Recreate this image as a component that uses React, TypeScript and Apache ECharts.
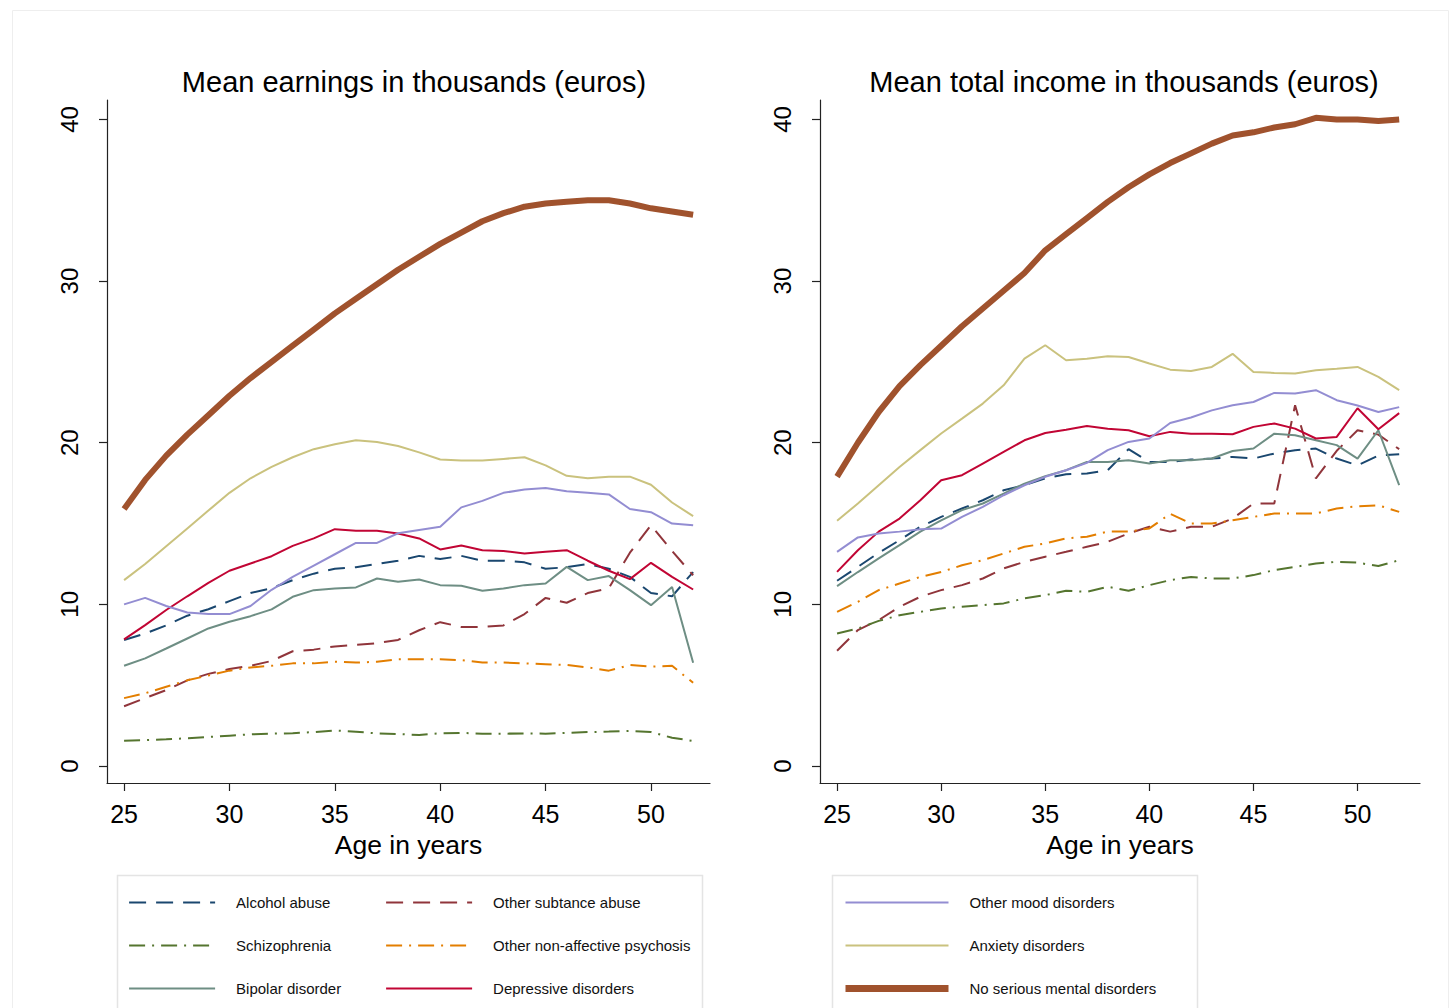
import { useRef, useEffect } from "react";
import * as echarts from "echarts";

// ages on the x axis
const ages = [25, 26, 27, 28, 29, 30, 31, 32, 33, 34, 35, 36, 37, 38, 39, 40, 41, 42, 43, 44, 45, 46, 47, 48, 49, 50, 51, 52];
const xTicks = [25, 30, 35, 40, 45, 50];
const yTicks = [0, 10, 20, 30, 40];

// mean earnings (left panel)
const alcoholE = [7.8, 8.2, 8.7, 9.3, 9.7, 10.2, 10.7, 11.0, 11.5, 11.9, 12.2, 12.3, 12.5, 12.7, 13.0, 12.8, 13.0, 12.7, 12.7, 12.6, 12.2, 12.3, 12.5, 12.2, 11.7, 10.7, 10.5, 12.0];
const substanceE = [3.7, 4.2, 4.7, 5.3, 5.7, 6.0, 6.2, 6.5, 7.1, 7.2, 7.4, 7.5, 7.6, 7.8, 8.4, 8.9, 8.6, 8.6, 8.7, 9.4, 10.4, 10.1, 10.7, 11.0, 13.2, 14.9, 13.3, 11.8];
const schizoE = [1.57, 1.6, 1.65, 1.72, 1.8, 1.88, 1.96, 2.0, 2.03, 2.1, 2.2, 2.12, 2.02, 1.98, 1.92, 2.03, 2.05, 2.0, 2.0, 2.02, 2.0, 2.05, 2.1, 2.13, 2.17, 2.1, 1.75, 1.55];
const psychosisE = [4.2, 4.5, 4.9, 5.3, 5.6, 5.9, 6.1, 6.2, 6.35, 6.35, 6.45, 6.4, 6.45, 6.6, 6.6, 6.6, 6.55, 6.4, 6.4, 6.35, 6.3, 6.25, 6.1, 5.9, 6.25, 6.15, 6.2, 5.15];
const bipolarE = [6.2, 6.66, 7.27, 7.89, 8.51, 8.92, 9.27, 9.69, 10.47, 10.88, 10.98, 11.05, 11.6, 11.4, 11.54, 11.19, 11.15, 10.84, 10.98, 11.19, 11.29, 12.32, 11.5, 11.75, 10.88, 9.95, 11.08, 6.39];
const depressiveE = [7.83, 8.72, 9.65, 10.5, 11.33, 12.08, 12.53, 12.98, 13.62, 14.08, 14.65, 14.55, 14.55, 14.38, 14.08, 13.4, 13.64, 13.35, 13.3, 13.15, 13.25, 13.35, 12.7, 12.08, 11.56, 12.57, 11.7, 10.92];
const moodE = [10.0, 10.4, 9.9, 9.5, 9.4, 9.4, 9.9, 10.9, 11.7, 12.4, 13.1, 13.8, 13.8, 14.4, 14.6, 14.8, 16.0, 16.4, 16.9, 17.1, 17.2, 17.0, 16.9, 16.8, 15.9, 15.7, 15.0, 14.9];
const anxietyE = [11.5, 12.5, 13.6, 14.7, 15.8, 16.9, 17.8, 18.5, 19.1, 19.6, 19.9, 20.15, 20.05, 19.8, 19.4, 18.96, 18.9, 18.9, 19.0, 19.1, 18.6, 17.95, 17.8, 17.9, 17.9, 17.4, 16.3, 15.46];
const noneE = [15.9, 17.7, 19.2, 20.5, 21.7, 22.9, 24.0, 25.0, 26.0, 27.0, 28.0, 28.9, 29.8, 30.7, 31.5, 32.3, 33.0, 33.7, 34.2, 34.6, 34.8, 34.9, 35.0, 35.0, 34.8, 34.5, 34.3, 34.1];

// mean total income (right panel)
const alcoholI = [11.46, 12.32, 13.19, 13.97, 14.8, 15.41, 15.93, 16.44, 17.06, 17.37, 17.79, 18.05, 18.1, 18.3, 19.6, 18.81, 18.81, 18.96, 19.02, 19.12, 19.02, 19.33, 19.54, 19.64, 19.02, 18.6, 19.2, 19.29];
const substanceI = [7.13, 8.41, 9.03, 9.85, 10.47, 10.88, 11.19, 11.6, 12.22, 12.63, 12.95, 13.25, 13.56, 13.87, 14.39, 14.8, 14.5, 14.8, 14.8, 15.31, 16.24, 16.24, 22.32, 17.79, 19.5, 20.77, 20.5, 19.6];
const schizoI = [8.2, 8.5, 8.98, 9.33, 9.54, 9.75, 9.85, 9.95, 10.06, 10.37, 10.57, 10.84, 10.78, 11.09, 10.84, 11.19, 11.5, 11.7, 11.6, 11.6, 11.81, 12.12, 12.32, 12.53, 12.63, 12.58, 12.37, 12.73];
const psychosisI = [9.54, 10.16, 10.88, 11.29, 11.7, 12.0, 12.42, 12.73, 13.15, 13.56, 13.77, 14.08, 14.18, 14.5, 14.5, 14.7, 15.6, 15.0, 15.0, 15.2, 15.41, 15.62, 15.62, 15.62, 15.93, 16.07, 16.13, 15.72];
const bipolarI = [11.13, 12.0, 12.84, 13.66, 14.5, 15.2, 15.83, 16.24, 16.85, 17.47, 17.93, 18.3, 18.81, 18.81, 18.92, 18.71, 18.92, 18.92, 19.02, 19.49, 19.64, 20.56, 20.46, 20.15, 19.85, 19.02, 20.77, 17.37];
const depressiveI = [12.01, 13.35, 14.5, 15.31, 16.44, 17.68, 17.99, 18.71, 19.43, 20.15, 20.6, 20.8, 21.04, 20.87, 20.77, 20.4, 20.67, 20.56, 20.56, 20.52, 20.98, 21.19, 20.87, 20.26, 20.36, 22.13, 20.83, 21.83];
const moodI = [13.25, 14.14, 14.39, 14.5, 14.64, 14.69, 15.41, 16.03, 16.75, 17.37, 17.89, 18.3, 18.75, 19.54, 20.05, 20.26, 21.22, 21.56, 22.0, 22.32, 22.52, 23.08, 23.04, 23.25, 22.63, 22.3, 21.9, 22.2];
const anxietyI = [15.17, 16.24, 17.37, 18.5, 19.54, 20.57, 21.49, 22.42, 23.55, 25.2, 26.03, 25.1, 25.2, 25.35, 25.3, 24.9, 24.52, 24.44, 24.69, 25.5, 24.38, 24.32, 24.28, 24.48, 24.58, 24.69, 24.07, 23.25];
const noneI = [17.9, 20.0, 21.9, 23.5, 24.8, 26.0, 27.2, 28.3, 29.4, 30.5, 31.9, 32.9, 33.9, 34.9, 35.8, 36.6, 37.3, 37.9, 38.5, 39.0, 39.2, 39.5, 39.7, 40.1, 40.0, 40.0, 39.9, 40.0];

const FONT = "'Liberation Sans', Arial, Helvetica, sans-serif";
const DASH = [17, 10];
const DASHDOT = [16, 7, 2, 7];

const groups = [
  { name: "Alcohol abuse", color: "#1a476f", type: DASH, width: 2, e: alcoholE, i: alcoholI },
  { name: "Other subtance abuse", color: "#90353b", type: DASH, width: 2, e: substanceE, i: substanceI },
  { name: "Schizophrenia", color: "#55752f", type: DASHDOT, width: 2, e: schizoE, i: schizoI },
  { name: "Other non-affective psychosis", color: "#e37e00", type: DASHDOT, width: 2, e: psychosisE, i: psychosisI },
  { name: "Bipolar disorder", color: "#6e8e84", type: "solid", width: 2, e: bipolarE, i: bipolarI },
  { name: "Depressive disorders", color: "#c10534", type: "solid", width: 2, e: depressiveE, i: depressiveI },
  { name: "Other mood disorders", color: "#938dd2", type: "solid", width: 2, e: moodE, i: moodI },
  { name: "Anxiety disorders", color: "#cac27e", type: "solid", width: 2, e: anxietyE, i: anxietyI },
  { name: "No serious mental disorders", color: "#a0522d", type: "solid", width: 6, e: noneE, i: noneI },
];

const makeX = (gridIndex: number, min: number, max: number) => ({
  type: "value",
  gridIndex,
  min,
  max,
  axisLine: { show: true, onZero: false, lineStyle: { color: "#222", width: 1.2 } },
  axisTick: { show: true, length: 8, customValues: xTicks, lineStyle: { color: "#222", width: 1.2 } },
  axisLabel: { customValues: xTicks, fontSize: 25, color: "#000", margin: 18, fontFamily: FONT },
  splitLine: { show: false },
  name: "Age in years",
  nameLocation: "middle",
  nameGap: 48,
  nameTextStyle: { fontSize: 26.5, color: "#000", fontFamily: FONT },
});

const makeY = (gridIndex: number) => ({
  type: "value",
  gridIndex,
  min: -1.05,
  max: 41.2,
  axisLine: { show: true, onZero: false, lineStyle: { color: "#222", width: 1.2 } },
  axisTick: { show: true, length: 8, customValues: yTicks, lineStyle: { color: "#222", width: 1.2 } },
  axisLabel: { customValues: yTicks, rotate: 90, fontSize: 24, color: "#000", margin: 26, fontFamily: FONT },
  splitLine: { show: false },
});

const legendBase = {
  orient: "vertical",
  itemWidth: 86,
  itemHeight: 14,
  itemGap: 28,
  padding: 0,
  itemStyle: { opacity: 0 },
  textStyle: { fontSize: 15, color: "#111", fontFamily: FONT, padding: [0, 0, 0, 16] },
};

// legend entries keep the series' line width (the thick brown one included)
const legendItems = (names: string[]) =>
  names.map((n) => {
    const g = groups.find((x) => x.name === n)!;
    return { name: n, lineStyle: { width: g.width === 6 ? 7 : 2.2 } };
  });

const App = () => {
  const chartRef = useRef<HTMLDivElement>(null);

  useEffect(() => {
    if (!chartRef.current) return;
    const chart = echarts.init(chartRef.current, null, { renderer: "svg" });

    const series: any[] = [];
    groups.forEach((g) => {
      [g.e, g.i].forEach((vals, idx) => {
        series.push({
          name: g.name,
          type: "line",
          xAxisIndex: idx,
          yAxisIndex: idx,
          symbol: "none",
          color: g.color,
          lineStyle: { color: g.color, width: g.width, type: g.type },
          data: ages.map((a, k) => [a, vals[k]]),
        });
      });
    });

    chart.setOption({
      animation: false,
      backgroundColor: "#fff",
      title: [
        { text: "Mean earnings in thousands (euros)", left: 409, top: 62, textAlign: "center", textStyle: { fontSize: 29, fontWeight: "normal", color: "#000", fontFamily: FONT } },
        { text: "Mean total income in thousands (euros)", left: 1119, top: 62, textAlign: "center", textStyle: { fontSize: 29, fontWeight: "normal", color: "#000", fontFamily: FONT } },
      ],
      grid: [
        { left: 107, top: 100, width: 603, height: 683 },
        { left: 820, top: 100, width: 600, height: 683 },
      ],
      xAxis: [makeX(0, 24.19, 52.8), makeX(1, 24.18, 53.0)],
      yAxis: [makeY(0), makeY(1)],
      legend: [
        { ...legendBase, left: 128, top: 895, data: legendItems(["Alcohol abuse", "Schizophrenia", "Bipolar disorder"]) },
        { ...legendBase, left: 385, top: 895, data: legendItems(["Other subtance abuse", "Other non-affective psychosis", "Depressive disorders"]) },
        { ...legendBase, left: 842, top: 895, itemWidth: 103, data: legendItems(["Other mood disorders", "Anxiety disorders", "No serious mental disorders"]) },
      ],
      graphic: [
        { type: "rect", left: 10, top: 8, z: -10, shape: { width: 1436, height: 1010 }, style: { fill: "none", stroke: "#eeeeee", lineWidth: 1 } },
        { type: "rect", left: 115, top: 873, z: -10, shape: { width: 585, height: 150 }, style: { fill: "none", stroke: "#e4e4e4", lineWidth: 1.5 } },
        { type: "rect", left: 830, top: 873, z: -10, shape: { width: 365, height: 150 }, style: { fill: "none", stroke: "#e4e4e4", lineWidth: 1.5 } },
      ],
      series,
    });

    return () => {
      chart.dispose();
    };
  }, []);

  return (
    <div
      ref={chartRef}
      style={{ position: "fixed", left: 0, top: 0, width: 1452, height: 1008 }}
    ></div>
  );
};

export default App;
